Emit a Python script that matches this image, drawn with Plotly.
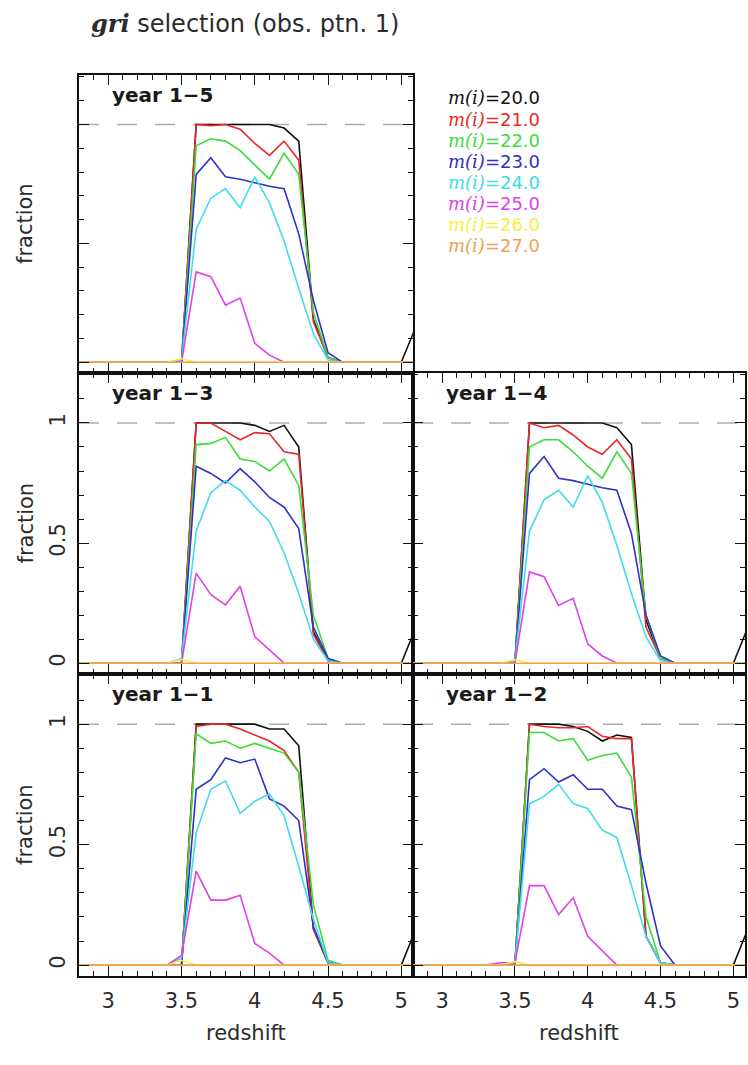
import plotly.graph_objects as go

W, H = 748, 1065

redshift = [2.8, 2.9, 3.0, 3.1, 3.2, 3.3, 3.4, 3.5, 3.6, 3.7, 3.8, 3.9, 4.0, 4.1,
            4.2, 4.3, 4.4, 4.5, 4.6, 4.7, 4.8, 4.9, 5.0, 5.1]

mags = ["20.0", "21.0", "22.0", "23.0", "24.0", "25.0", "26.0", "27.0"]
colors = ["#111111", "#e8282a", "#3cdc3c", "#3030c8", "#40dcec", "#e040e8", "#f2f23c", "#f0a050"]

# ---- year 1-5 ----
y15_m20 = [0, 0, 0, 0, 0, 0, 0, 0, 1.0, 1.0, 1.0, 1.0, 1.0, 1.0, 0.985, 0.93, 0.18, 0.02, 0, 0, 0, 0, 0, 0.15]
y15_m21 = [0, 0, 0, 0, 0, 0, 0, 0, 1.0, 0.995, 1.0, 0.98, 0.92, 0.87, 0.93, 0.85, 0.17, 0.02, 0, 0, 0, 0, 0, 0]
y15_m22 = [0, 0, 0, 0, 0, 0, 0, 0, 0.91, 0.94, 0.93, 0.89, 0.83, 0.77, 0.88, 0.79, 0.21, 0.02, 0, 0, 0, 0, 0, 0]
y15_m23 = [0, 0, 0, 0, 0, 0, 0, 0, 0.79, 0.86, 0.78, 0.77, 0.755, 0.74, 0.73, 0.54, 0.26, 0.04, 0, 0, 0, 0, 0, 0]
y15_m24 = [0, 0, 0, 0, 0, 0, 0, 0.01, 0.56, 0.69, 0.73, 0.65, 0.78, 0.67, 0.51, 0.31, 0.12, 0.01, 0, 0, 0, 0, 0, 0]
y15_m25 = [0, 0, 0, 0, 0, 0, 0, 0, 0.38, 0.36, 0.24, 0.27, 0.08, 0.03, 0, 0, 0, 0, 0, 0, 0, 0, 0, 0]
y15_m26 = [0, 0, 0, 0, 0, 0, 0, 0.015, 0, 0, 0, 0, 0, 0, 0, 0, 0, 0, 0, 0, 0, 0, 0, 0]
y15_m27 = [0, 0, 0, 0, 0, 0, 0, 0, 0, 0, 0, 0, 0, 0, 0, 0, 0, 0, 0, 0, 0, 0, 0, 0]

# ---- year 1-3 ----
y13_m20 = [0, 0, 0, 0, 0, 0, 0, 0, 1.0, 1.0, 1.0, 1.0, 0.99, 0.965, 0.99, 0.90, 0.13, 0.01, 0, 0, 0, 0, 0, 0.15]
y13_m21 = [0, 0, 0, 0, 0, 0, 0, 0, 1.0, 1.0, 0.965, 0.93, 0.96, 0.955, 0.88, 0.87, 0.12, 0.01, 0, 0, 0, 0, 0, 0]
y13_m22 = [0, 0, 0, 0, 0, 0, 0, 0, 0.91, 0.915, 0.94, 0.85, 0.84, 0.80, 0.85, 0.74, 0.20, 0.02, 0, 0, 0, 0, 0, 0]
y13_m23 = [0, 0, 0, 0, 0, 0, 0, 0, 0.82, 0.79, 0.75, 0.81, 0.755, 0.69, 0.65, 0.56, 0.15, 0.02, 0, 0, 0, 0, 0, 0]
y13_m24 = [0, 0, 0, 0, 0, 0, 0, 0.02, 0.55, 0.71, 0.76, 0.72, 0.65, 0.59, 0.46, 0.29, 0.10, 0.01, 0, 0, 0, 0, 0, 0]
y13_m25 = [0, 0, 0, 0, 0, 0, 0, 0, 0.375, 0.285, 0.243, 0.32, 0.11, 0.055, 0, 0, 0, 0, 0, 0, 0, 0, 0, 0]
y13_m26 = [0, 0, 0, 0, 0, 0, 0, 0.015, 0, 0, 0, 0, 0, 0, 0, 0, 0, 0, 0, 0, 0, 0, 0, 0]
y13_m27 = [0, 0, 0, 0, 0, 0, 0, 0, 0, 0, 0, 0, 0, 0, 0, 0, 0, 0, 0, 0, 0, 0, 0, 0]

# ---- year 1-4 ----
y14_m20 = [0, 0, 0, 0, 0, 0, 0, 0, 1.0, 1.0, 1.0, 1.0, 1.0, 1.0, 0.98, 0.91, 0.18, 0.02, 0, 0, 0, 0, 0, 0.15]
y14_m21 = [0, 0, 0, 0, 0, 0, 0, 0, 1.0, 0.98, 0.99, 0.95, 0.90, 0.87, 0.93, 0.85, 0.15, 0.02, 0, 0, 0, 0, 0, 0]
y14_m22 = [0, 0, 0, 0, 0, 0, 0, 0, 0.90, 0.93, 0.93, 0.88, 0.82, 0.77, 0.88, 0.79, 0.20, 0.02, 0, 0, 0, 0, 0, 0]
y14_m23 = [0, 0, 0, 0, 0, 0, 0, 0, 0.79, 0.86, 0.77, 0.76, 0.745, 0.73, 0.72, 0.54, 0.20, 0.03, 0, 0, 0, 0, 0, 0]
y14_m24 = [0, 0, 0, 0, 0, 0, 0, 0.01, 0.55, 0.68, 0.72, 0.65, 0.78, 0.67, 0.49, 0.29, 0.11, 0.01, 0, 0, 0, 0, 0, 0]
y14_m25 = [0, 0, 0, 0, 0, 0, 0, 0, 0.38, 0.36, 0.24, 0.27, 0.08, 0.03, 0, 0, 0, 0, 0, 0, 0, 0, 0, 0]
y14_m26 = [0, 0, 0, 0, 0, 0, 0, 0.015, 0, 0, 0, 0, 0, 0, 0, 0, 0, 0, 0, 0, 0, 0, 0, 0]
y14_m27 = [0, 0, 0, 0, 0, 0, 0, 0, 0, 0, 0, 0, 0, 0, 0, 0, 0, 0, 0, 0, 0, 0, 0, 0]

# ---- year 1-1 ----
y11_m20 = [0, 0, 0, 0, 0, 0, 0, 0, 1.0, 1.0, 1.0, 1.0, 1.0, 0.98, 0.98, 0.91, 0.15, 0.01, 0, 0, 0, 0, 0, 0.15]
y11_m21 = [0, 0, 0, 0, 0, 0, 0, 0, 0.99, 1.0, 1.0, 0.98, 0.955, 0.93, 0.89, 0.80, 0.15, 0.01, 0, 0, 0, 0, 0, 0]
y11_m22 = [0, 0, 0, 0, 0, 0, 0, 0, 0.96, 0.92, 0.93, 0.90, 0.92, 0.90, 0.88, 0.80, 0.25, 0.02, 0, 0, 0, 0, 0, 0]
y11_m23 = [0, 0, 0, 0, 0, 0, 0, 0, 0.73, 0.77, 0.86, 0.84, 0.855, 0.69, 0.66, 0.60, 0.16, 0.01, 0, 0, 0, 0, 0, 0]
y11_m24 = [0, 0, 0, 0, 0, 0, 0, 0.03, 0.55, 0.73, 0.765, 0.63, 0.68, 0.71, 0.62, 0.41, 0.19, 0.01, 0, 0, 0, 0, 0, 0]
y11_m25 = [0, 0, 0, 0, 0, 0, 0, 0.04, 0.39, 0.27, 0.27, 0.29, 0.09, 0.05, 0, 0, 0, 0, 0, 0, 0, 0, 0, 0]
y11_m26 = [0, 0, 0, 0, 0, 0, 0, 0.02, 0, 0, 0, 0, 0, 0, 0, 0, 0, 0, 0, 0, 0, 0, 0, 0]
y11_m27 = [0, 0, 0, 0, 0, 0, 0, 0, 0, 0, 0, 0, 0, 0, 0, 0, 0, 0, 0, 0, 0, 0, 0, 0]

# ---- year 1-2 ----
y12_m20 = [0, 0, 0, 0, 0, 0, 0, 0, 1.0, 1.0, 1.0, 0.99, 0.97, 0.93, 0.955, 0.945, 0.12, 0.01, 0, 0, 0, 0, 0, 0.15]
y12_m21 = [0, 0, 0, 0, 0, 0, 0, 0, 1.0, 0.99, 0.985, 0.985, 0.99, 0.95, 0.94, 0.94, 0.12, 0.01, 0, 0, 0, 0, 0, 0]
y12_m22 = [0, 0, 0, 0, 0, 0, 0, 0, 0.965, 0.965, 0.93, 0.94, 0.85, 0.87, 0.88, 0.78, 0.20, 0.01, 0, 0, 0, 0, 0, 0]
y12_m23 = [0, 0, 0, 0, 0, 0, 0, 0, 0.77, 0.815, 0.76, 0.79, 0.73, 0.73, 0.66, 0.645, 0.34, 0.08, 0, 0, 0, 0, 0, 0]
y12_m24 = [0, 0, 0, 0, 0, 0, 0, 0.01, 0.67, 0.70, 0.75, 0.67, 0.65, 0.56, 0.53, 0.33, 0.12, 0.01, 0, 0, 0, 0, 0, 0]
y12_m25 = [0, 0, 0, 0, 0, 0, 0.01, 0.01, 0.33, 0.33, 0.21, 0.28, 0.12, 0.06, 0, 0, 0, 0, 0, 0, 0, 0, 0, 0]
y12_m26 = [0, 0, 0, 0, 0, 0, 0, 0.015, 0, 0, 0, 0, 0, 0, 0, 0, 0, 0, 0, 0, 0, 0, 0, 0]
y12_m27 = [0, 0, 0, 0, 0, 0, 0, 0, 0, 0, 0, 0, 0, 0, 0, 0, 0, 0, 0, 0, 0, 0, 0, 0]

panel_labels = ["year 1\u22125", "year 1\u22123", "year 1\u22124", "year 1\u22121", "year 1\u22122"]
panel_series = [
    [y15_m20, y15_m21, y15_m22, y15_m23, y15_m24, y15_m25, y15_m26, y15_m27],
    [y13_m20, y13_m21, y13_m22, y13_m23, y13_m24, y13_m25, y13_m26, y13_m27],
    [y14_m20, y14_m21, y14_m22, y14_m23, y14_m24, y14_m25, y14_m26, y14_m27],
    [y11_m20, y11_m21, y11_m22, y11_m23, y11_m24, y11_m25, y11_m26, y11_m27],
    [y12_m20, y12_m21, y12_m22, y12_m23, y12_m24, y12_m25, y12_m26, y12_m27],
]

x_ticks = [3, 3.5, 4, 4.5, 5]
x_ticktext = ["3", "3.5", "4", "4.5", "5"]
y_ticks = [0, 0.5, 1]
y_ticktext = ["0", "0.5", "1"]

# ---- layout geometry (pixels) ----
colx = [(79, 413), (413, 745)]
rowy = [(75, 373), (373, 674), (674, 976)]
# (column, row, show x labels, show y labels)
panel_pos = [(0, 0, False, False), (0, 1, False, True), (1, 1, False, False),
             (0, 2, True, True), (1, 2, True, False)]

def px(x):
    return x / W

def py(y):
    return 1 - y / H

FONT = "DejaVu Sans"
TXT = "#2b2b2b"
XR = [2.8, 5.08]
YR = [-0.045, 1.208]

fig = go.Figure()
layout = dict(width=W, height=H, margin=dict(l=0, r=0, t=0, b=0),
              paper_bgcolor="white", plot_bgcolor="white", showlegend=False)
annotations = []
shapes = []

for i, ((c, r, showx, showy), series, lab) in enumerate(zip(panel_pos, panel_series, panel_labels)):
    k = "" if i == 0 else str(i + 1)
    xa, ya = "x" + k, "y" + k
    for s, colr in zip(series, colors):
        fig.add_trace(go.Scatter(x=redshift, y=s, mode="lines", xaxis=xa, yaxis=ya,
                                 line=dict(color=colr, width=1.6), hoverinfo="skip"))
    common = dict(showline=True, mirror="allticks", linecolor="#111", linewidth=1.5,
                  ticks="inside", ticklen=10, tickwidth=1.4, tickcolor="#111",
                  showgrid=False, zeroline=False,
                  tickfont=dict(family=FONT, size=21, color=TXT),
                  minor=dict(dtick=0.1, tick0=0, ticks="inside", ticklen=5, tickwidth=1.2,
                             tickcolor="#111", showgrid=False))
    x0, x1 = colx[c]
    y0, y1 = rowy[r]
    layout["xaxis" + k] = dict(common, domain=[px(x0), px(x1)], range=XR, anchor=ya,
                               tickvals=x_ticks, ticktext=x_ticktext,
                               showticklabels=showx, ticklabelstandoff=5)
    layout["yaxis" + k] = dict(common, domain=[py(y1), py(y0)], range=YR, anchor=xa,
                               tickvals=y_ticks, ticktext=y_ticktext, tickangle=-90,
                               showticklabels=showy, ticklabelstandoff=4)
    shapes.append(dict(type="line", xref=xa + " domain", yref=ya, x0=0, x1=1, y0=1, y1=1,
                       line=dict(color="#adadad", width=1.5, dash="20px,18px"), layer="below"))
    annotations.append(dict(text="<b>" + lab + "</b>", x=px(x0 + 31), y=py(y0 + 20),
                            xref="paper", yref="paper", xanchor="left", yanchor="middle",
                            showarrow=False, font=dict(family=FONT, size=20, color="#1a1a1a")))
    if c == 0:
        annotations.append(dict(text="fraction", x=px(25), y=py((y0 + y1) / 2),
                                xref="paper", yref="paper", textangle=-90,
                                xanchor="center", yanchor="middle",
                                showarrow=False, font=dict(family=FONT, size=21, color=TXT)))
    if r == 2:
        annotations.append(dict(text="redshift", x=px((x0 + x1) / 2), y=py(1033),
                                xref="paper", yref="paper", xanchor="center", yanchor="middle",
                                showarrow=False, font=dict(family=FONT, size=21, color=TXT)))

# legend block
for j, (m, colr) in enumerate(zip(mags, colors)):
    annotations.append(dict(
        text="<span style='font-family:DejaVu Serif'><i>m(i)</i></span>=" + m,
        x=px(446), y=py(98 + 21.1 * j), xref="paper", yref="paper",
        xanchor="left", yanchor="middle", showarrow=False,
        font=dict(family=FONT, size=18, color=colr)))

# title
annotations.append(dict(
    text="<span style='font-family:DejaVu Serif'><b><i>gri</i></b></span> selection (obs. ptn. 1)",
    x=px(89), y=py(23), xref="paper", yref="paper", xanchor="left", yanchor="middle",
    showarrow=False, font=dict(family=FONT, size=24, color=TXT)))

layout["annotations"] = annotations
layout["shapes"] = shapes
fig.update_layout(**layout)
fig.write_html("out.html")
